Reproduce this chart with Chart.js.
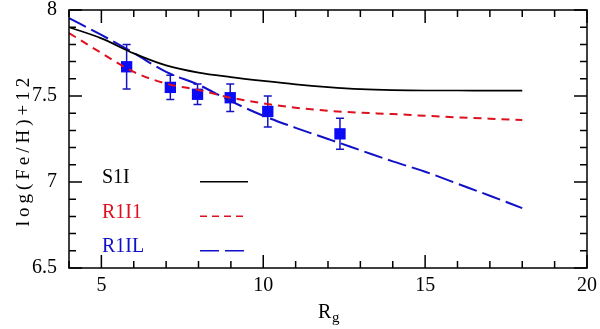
<!DOCTYPE html>
<html>
<head>
<meta charset="utf-8">
<script src="https://cdn.jsdelivr.net/npm/chart.js@4/dist/chart.umd.min.js"></script>
<style>
  html, body { margin: 0; padding: 0; background: #fff; }
  #wrap { width: 600px; height: 329px; }
</style>
</head>
<body>
<div id="wrap"><canvas id="abund-chart"></canvas></div>
<script>
// model curves, log(Fe/H)+12 against Rg
const modelR = [4, 5, 6, 7, 8, 9, 10, 11, 12, 13, 14, 15, 16, 17, 18];
const s1i = [7.90, 7.835, 7.748, 7.678, 7.636, 7.61, 7.588, 7.568, 7.552, 7.54, 7.534, 7.532, 7.532, 7.531, 7.531];
const r1i1 = [7.866, 7.75, 7.64, 7.572, 7.535, 7.49, 7.457, 7.432, 7.414, 7.403, 7.395, 7.385, 7.376, 7.368, 7.36];
const r1il = [7.953, 7.855, 7.75, 7.64, 7.565, 7.47, 7.385, 7.315, 7.25, 7.185, 7.12, 7.06, 6.99, 6.92, 6.848];

// observed points with errors
const obsR = [5.78, 7.13, 7.97, 8.98, 10.14, 12.37];
const obsV = [7.67, 7.55, 7.51, 7.49, 7.41, 7.28];
const obsErr = [0.13, 0.07, 0.06, 0.08, 0.09, 0.09];

const xMajor = [5, 10, 15, 20];
const yMajor = [6.5, 7, 7.5, 8];

const legendNames = ["S1I", "R1I1", "R1IL"];
const legendColors = ["#000000", "#dd1020", "#1010c8"];
const legendDash = [[], [7, 5], [19, 6]];

const serif = "'Liberation Serif', 'Times New Roman', serif";
const isMajor = (v, list) => list.some(m => Math.abs(m - v) < 1e-6);
const pts = (xs, ys) => xs.map((x, i) => ({ x, y: ys[i] }));

const frame = {
  id: "frame",
  beforeDatasetsDraw(chart) {
    const { ctx, scales: { x, y } } = chart;
    ctx.save();
    ctx.strokeStyle = "#1515c0";
    ctx.lineWidth = 1.5;
    obsR.forEach((r, i) => {
      const px = x.getPixelForValue(r);
      const top = y.getPixelForValue(obsV[i] + obsErr[i]);
      const bot = y.getPixelForValue(obsV[i] - obsErr[i]);
      ctx.beginPath();
      ctx.moveTo(px, top); ctx.lineTo(px, bot);
      ctx.moveTo(px - 4, top); ctx.lineTo(px + 4, top);
      ctx.moveTo(px - 4, bot); ctx.lineTo(px + 4, bot);
      ctx.stroke();
    });
    ctx.restore();
  },
  afterDraw(chart) {
    const { ctx, chartArea: a, scales: { x, y } } = chart;
    ctx.save();
    ctx.strokeStyle = "#000";
    ctx.lineWidth = 1.5;
    ctx.strokeRect(a.left, a.top, a.right - a.left, a.bottom - a.top);

    // inward ticks on all four sides
    ctx.beginPath();
    x.ticks.forEach(t => {
      const px = x.getPixelForValue(t.value);
      const len = isMajor(t.value, xMajor) ? 13 : 7;
      ctx.moveTo(px, a.bottom); ctx.lineTo(px, a.bottom - len);
      ctx.moveTo(px, a.top); ctx.lineTo(px, a.top + len);
    });
    y.ticks.forEach(t => {
      const py = y.getPixelForValue(t.value);
      const len = isMajor(t.value, yMajor) ? 13 : 7;
      ctx.moveTo(a.left, py); ctx.lineTo(a.left + len, py);
      ctx.moveTo(a.right, py); ctx.lineTo(a.right - len, py);
    });
    ctx.stroke();

    // legend, inside the plot
    ctx.font = "20px " + serif;
    ctx.textBaseline = "alphabetic";
    legendNames.forEach((name, i) => {
      const ty = a.top + 173 + i * 34.5;
      ctx.fillStyle = legendColors[i];
      ctx.fillText(name, a.left + 33, ty);
      ctx.strokeStyle = legendColors[i];
      ctx.lineWidth = 1.5;
      ctx.setLineDash(legendDash[i]);
      ctx.beginPath();
      ctx.moveTo(a.left + 131, ty - 1.3);
      ctx.lineTo(a.left + 179, ty - 1.3);
      ctx.stroke();
    });
    ctx.setLineDash([]);

    // axis titles
    ctx.fillStyle = "#000";
    ctx.font = "20px " + serif;
    ctx.fillText("R", 318, 318);
    ctx.font = "15px " + serif;
    ctx.fillText("g", 332, 322);

    ctx.translate(29, 150);
    ctx.rotate(-Math.PI / 2);
    ctx.font = "19px " + serif;
    ctx.letterSpacing = "4px";
    ctx.textAlign = "center";
    ctx.fillText("log(Fe/H)+12", 0, 0);
    ctx.restore();
  }
};

new Chart(document.getElementById("abund-chart"), {
  type: "scatter",
  data: {
    datasets: [
      {
        label: "S1I", type: "line", data: pts(modelR, s1i),
        borderColor: "#000", borderWidth: 1.7, pointRadius: 0,
        cubicInterpolationMode: "monotone"
      },
      {
        label: "R1I1", type: "line", data: pts(modelR, r1i1),
        borderColor: "#dd1020", borderWidth: 2, borderDash: [8, 6], pointRadius: 0,
        cubicInterpolationMode: "monotone"
      },
      {
        label: "R1IL", type: "line", data: pts(modelR, r1il),
        borderColor: "#1010c8", borderWidth: 2, borderDash: [19, 6], pointRadius: 0,
        cubicInterpolationMode: "monotone"
      },
      {
        label: "obs", data: pts(obsR, obsV),
        pointStyle: "rect", pointRadius: 8, pointHoverRadius: 8,
        backgroundColor: "#0a0af5", borderColor: "#0a0af5", borderWidth: 0
      }
    ]
  },
  options: {
    responsive: true,
    maintainAspectRatio: false,
    animation: false,
    layout: { padding: { top: 10, right: 13, left: 0, bottom: 0 } },
    scales: {
      x: {
        type: "linear", min: 4, max: 20,
        border: { display: false },
        grid: { display: false, drawTicks: false },
        afterFit: s => { s.height = 61; s.paddingLeft = 0; s.paddingRight = 0; },
        ticks: {
          stepSize: 1, autoSkip: false, maxRotation: 0, padding: 7,
          color: "#000", font: { family: serif, size: 20, lineHeight: 1.1 },
          callback: v => isMajor(v, xMajor) ? String(v) : ""
        }
      },
      y: {
        min: 6.5, max: 8,
        border: { display: false },
        grid: { display: false, drawTicks: false },
        afterFit: s => { s.width = 69; s.paddingTop = 0; s.paddingBottom = 0; },
        ticks: {
          stepSize: 0.1, autoSkip: false, padding: 12,
          color: "#000", font: { family: serif, size: 20, lineHeight: 1.0 },
          callback: v => isMajor(v, yMajor) ? String(Math.round(v * 2) / 2) : ""
        }
      }
    },
    plugins: {
      legend: { display: false },
      tooltip: { enabled: false }
    }
  },
  plugins: [frame]
});
</script>
</body>
</html>
